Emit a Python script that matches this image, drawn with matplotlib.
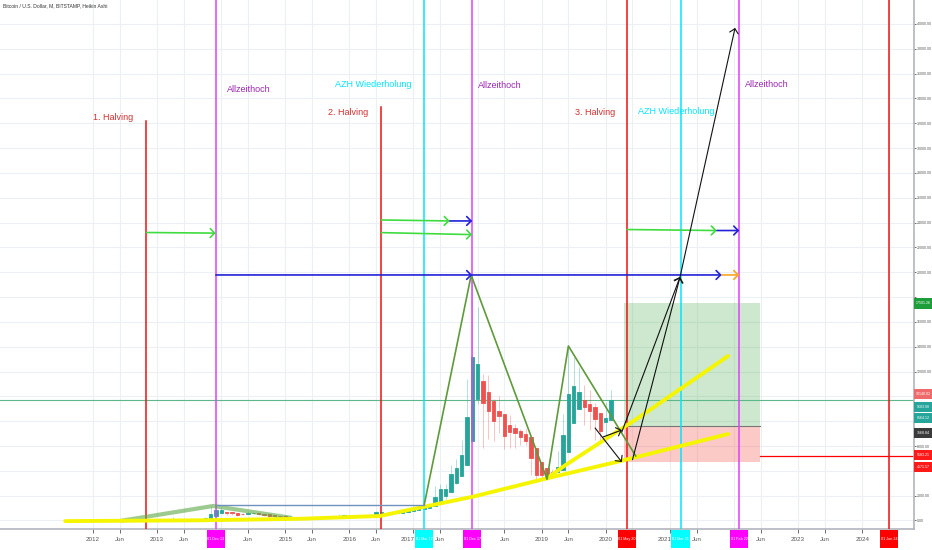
import numpy as np
import pandas as pd
import matplotlib
matplotlib.use('Agg')
import matplotlib.pyplot as plt
from matplotlib.patches import Rectangle
import matplotlib.transforms as mtransforms

plt.rcParams['font.family'] = ['Liberation Sans Narrow', 'Liberation Sans', 'DejaVu Sans']

# x axis is a month index: 0 = Jan 2012 (one TradingView bar per month)
FIRST_BAR = '2011-08'
LAST_BAR = '2020-02'

# Heikin Ashi monthly candles, Aug 2011 .. Feb 2020 (BITSTAMP)
ha_open = [12, 11, 8.5, 6, 4.4,
           4, 5, 5, 5, 5, 5, 5.6, 6.8, 8.7, 10, 10.7, 11,
           12, 14, 20, 40, 80, 100, 105, 98, 104, 115, 143, 350,
           585, 705, 670, 620, 545, 530, 570, 590, 560, 500, 430, 400,
           370, 315, 278, 271, 250, 243, 244, 262, 251, 243, 259, 305,
           362, 381, 390, 402, 421, 450, 550, 605, 598, 601, 630, 680,
           765, 848, 950, 1025, 1130, 1500, 2000, 2260, 3000, 3600, 4440, 6390,
           9800, 11220, 10340, 9590, 8800, 8610, 7700, 7420, 7240, 6980, 6690, 5850,
           4750, 4200, 3925, 3890, 4090, 5485, 7840, 9015, 9680, 9415, 9110, 8640,
           7940, 8090]
ha_close = [10, 6, 4, 2.8, 3.6,
            6, 5.1, 4.9, 5, 5.1, 6.2, 8, 10.5, 11.5, 11.3, 11.5, 13.3,
            16, 27, 60, 120, 120, 110, 90, 110, 127, 170, 560, 820,
            826, 640, 570, 470, 520, 610, 610, 530, 440, 360, 370, 340,
            260, 240, 265, 230, 235, 245, 280, 240, 235, 275, 350, 420,
            400, 400, 415, 440, 480, 650, 660, 590, 605, 660, 730, 850,
            930, 1050, 1100, 1230, 1860, 2500, 2520, 3730, 4200, 5270, 8340, 13200,
            12630, 9470, 8830, 8020, 8420, 6800, 7130, 7050, 6720, 6400, 5020, 3650,
            3650, 3650, 3850, 4290, 6880, 10190, 10800, 10340, 9150, 8810, 8175, 7240,
            8245, 9700]
ha_high = [15, 12, 9, 7, 5,
           7, 6.5, 5.5, 5.5, 5.3, 7, 9.5, 16, 12.5, 13, 12.5, 14,
           21, 31, 95, 266, 130, 130, 111, 125, 145, 250, 1163, 1150,
           1000, 710, 710, 620, 630, 680, 650, 600, 560, 500, 460, 400,
           370, 315, 300, 300, 255, 270, 315, 290, 260, 330, 500, 470,
           460, 440, 420, 460, 540, 780, 700, 610, 610, 740, 760, 980,
           1160, 1200, 1280, 1350, 2760, 2980, 2920, 4480, 4970, 6470, 11400, 19660,
           17170, 11790, 11700, 9760, 10020, 8610, 8500, 7770, 7410, 7400, 6690, 5850,
           4750, 4200, 4140, 5620, 8570, 13880, 13200, 12330, 10950, 10500, 9500, 8640,
           9580, 10500]
ha_low = [7, 4.5, 2.2, 2, 2.8,
          4, 4.3, 4.4, 4.7, 4.9, 5.2, 5.6, 6.8, 8.7, 10, 10.5, 11,
          12, 14, 20, 40, 80, 65, 65, 90, 104, 115, 143, 350,
          585, 420, 450, 340, 420, 530, 570, 450, 380, 290, 320, 300,
          150, 210, 240, 210, 220, 215, 244, 200, 225, 235, 259, 305,
          350, 360, 390, 402, 421, 450, 480, 520, 590, 601, 630, 680,
          750, 848, 890, 1025, 1130, 1500, 1760, 2260, 2980, 3600, 4440, 6390,
          9400, 5870, 6530, 6430, 7030, 5750, 5830, 5880, 6100, 6090, 3650, 3130,
          3350, 3380, 3730, 3890, 4090, 5485, 7840, 9015, 7710, 7300, 6500, 6430,
          6850, 8090]

# vertical event lines
halving_dates = ['2012-11', '2016-07', '2020-05', '2024-06']
halving_tops = [32200, 33300, None, None]
ath_dates = ['2013-12', '2017-12', '2022-02']
repeat_dates = ['2017-03', '2021-03']

# text notes: (text, month index, price, colour)
notes = [
    ('1. Halving', 0.0, 32500, '#d32f2f'),
    ('Allzeithoch', 25.1, 34760, '#9c27b0'),
    ('AZH Wiederholung', 45.3, 35160, '#00e5ff'),
    ('2. Halving', 44.0, 32830, '#d32f2f'),
    ('Allzeithoch', 72.1, 35080, '#9c27b0'),
    ('3. Halving', 90.2, 32830, '#d32f2f'),
    ('AZH Wiederholung', 102.0, 32910, '#00e5ff'),
    ('Allzeithoch', 122.1, 35160, '#9c27b0'),
]

# drawn arrows: ((month, price) start, (month, price) end)
green_arrows = [((10, 23200), (23, 23150)), ((54, 24210), (66.8, 24130)),
                ((54, 23190), (71, 23030)), ((100, 23440), (116.8, 23360))]
blue_arrows = [((66.8, 24130), (71, 24130)), ((23, 19780), (71, 19780)),
               ((71, 19780), (117.7, 19780)), ((116.8, 23360), (121, 23360))]
orange_arrows = [((117.7, 19780), (121, 19780))]
black_arrows = [((99.0, 7130), (109.9, 19620)), ((101.0, 4900), (109.9, 19620)),
                ((109.9, 19620), (120.2, 39680)), ((94.0, 7450), (99.0, 4710)),
                ((95.5, 6730), (99.0, 7290))]

# trend lines
yellow_low_x = [-5.2, 20.0, 38.7, 53.7, 57.5, 71.1, 85.0, 99.0, 118.9]
yellow_low_y = [-50, 16, 137, 363, 709, 1917, 3400, 4818, 6968]
yellow_up_x = [85.0, 88.0, 102.4, 118.9]
yellow_up_y = [3400, 4334, 8362, 13252]
zigzag_x = [62.0, 70.8, 85.0, 89.0, 101.6]
zigzag_y = [1250, 19760, 3320, 14060, 5200]
early_zigzag_x = [5.6, 22.5, 36.9]
early_zigzag_y = [0, 1170, 230]
range_line = [(23, 1250), (62, 1250)]

# long position tool
pos_left, pos_right = 99.4, 124.9
entry_price, target_price, stop_price = 7600, 17501.26, 4700
stop_line = 5183.21
last_price_line = 9708

# price axis labels: (price position, text, colour)
price_tags = [(17501, '17501.26', '#1e9e3a'), (10190, '10140.02', '#ef6b6b'),
              (9144, '9683.98', '#26a69a'), (8257, '8564.12', '#26a69a'),
              (7049, '7568.84', '#3a3a3a'), (5277, '5183.21', '#ff1a1a'),
              (4310, '4571.57', '#ff1a1a')]
hidden_price_ticks = [18000, 10000, 8000, 4000]

# time axis date tags: (month, text, colour)
date_tags = [('2013-12', '01 Dec 13', '#ff00ff'), ('2017-03', '01 Mar 17', '#00ffff'),
             ('2017-12', '01 Dec 17', '#ff00ff'), ('2020-05', '01 May 20', '#ff0000'),
             ('2021-03', '01 Mar 21', '#00ffff'), ('2022-02', '01 Feb 22', '#ff00ff'),
             ('2024-06', '01 Jun 24', '#ff0000')]


def mi(s):
    p = pd.Period(s, freq='M')
    return (p.year - 2012) * 12 + p.month - 1


fig = plt.figure(figsize=(9.32, 5.5), dpi=100)
ax = fig.add_axes([0, 21 / 550, 914 / 932, 529 / 550])
ax.set_xlim(-17.41, 153.7)
ax.set_ylim(-685, 41930)

# grid + axes look
xt, xl = [], []
hidden_months = [24, 72, 101, 120, 149]
half_hidden = {60: '2017', 108: '2021'}
for year in range(2012, 2025):
    for mo, lab in [(1, str(year)), (6, 'Jun')]:
        m = mi(f'{year}-{mo:02d}')
        xt.append(m)
        xl.append('' if (m in hidden_months or m in half_hidden) else lab)
ax.set_xticks(xt)
ax.set_xticklabels(xl)
yt = np.arange(0, 40001, 2000)
ax.set_yticks(yt)
ax.set_yticklabels(['' if v in hidden_price_ticks else f'{v:.2f}' for v in yt])
ax.yaxis.tick_right()
ax.tick_params(axis='y', labelsize=2.6, colors='#555555', length=1.5, pad=0.6, width=0.6)
ax.tick_params(axis='x', labelsize=4.5, colors='#555555', length=3, pad=3, width=0.6)
ax.grid(True, color='#eceff3', lw=0.8, zorder=0)
ax.set_axisbelow(True)
for s in ['top', 'left']:
    ax.spines[s].set_visible(False)
for s in ['right', 'bottom']:
    ax.spines[s].set_color('#b2b5be')
    ax.spines[s].set_linewidth(1.2)

tr_x = ax.get_xaxis_transform()
# year labels partly covered by date tags: shown just left of the tag
for m, lab in half_hidden.items():
    ax.text(m + 0.3, -10.5 / 529, lab, transform=tr_x, fontsize=4.5, color='#555555',
            ha='right', va='center', clip_on=False)

# long position boxes
ax.add_patch(Rectangle((pos_left, entry_price), pos_right - pos_left, target_price - entry_price,
                       fc='#4caf50', alpha=0.28, ec='none', zorder=1))
ax.add_patch(Rectangle((pos_left, stop_price), pos_right - pos_left, entry_price - stop_price,
                       fc='#f44336', alpha=0.28, ec='none', zorder=1))
ax.plot([pos_left, pos_right], [entry_price, entry_price], color='#777777', lw=0.8, zorder=1.5)
ax.plot([pos_right, 153.7], [stop_line, stop_line], color='#ff0000', lw=0.9, zorder=1.5)
ax.axhline(last_price_line, color='#5cb88a', lw=0.8, zorder=1.5)

# candles
months = pd.period_range(FIRST_BAR, LAST_BAR, freq='M')
cx = np.array([(p.year - 2012) * 12 + p.month - 1 for p in months])
o, c = np.array(ha_open), np.array(ha_close)
up = c >= o
cols = np.where(up, '#26a69a', '#ef5350')
ax.vlines(cx, ha_low, ha_high, colors=cols, lw=0.7, alpha=0.35, zorder=2)
ax.bar(cx, c - o, bottom=o, width=0.62, color=cols, edgecolor=cols, lw=0.6, zorder=2.2)

# vertical event lines
for d, top in zip(halving_dates, halving_tops):
    ax.plot([mi(d), mi(d)], [-685, top if top else 41930], color='#ee1111', lw=1.1, zorder=3)
for d in ath_dates:
    ax.axvline(mi(d), color='#e040fb', lw=1.1, zorder=3)
for d in repeat_dates:
    ax.axvline(mi(d), color='#00e5ff', lw=1.1, zorder=3)

# trend drawings
ax.plot(early_zigzag_x, early_zigzag_y, color='#5aa845', lw=3, alpha=0.6, zorder=3.2)
ax.plot(yellow_low_x, yellow_low_y, color='#f5f500', lw=2.8, zorder=3.3, solid_capstyle='round')
ax.plot(yellow_up_x, yellow_up_y, color='#f5f500', lw=2.8, zorder=3.3, solid_capstyle='round')
ax.plot(zigzag_x, zigzag_y, color='#5e9a3a', lw=1.2, zorder=3.4)
ax.plot(*zip(*range_line), color='#7092be', lw=1, zorder=3.4)


def arrow(p0, p1, color, lw=1.2):
    ax.annotate('', xy=p1, xytext=p0, zorder=3.6,
                arrowprops=dict(arrowstyle='->,head_length=0.35,head_width=0.35', color=color,
                                lw=lw, shrinkA=0, shrinkB=0, mutation_scale=9))


for a, b in green_arrows:
    arrow(a, b, '#3fdc3f')
for a, b in blue_arrows:
    arrow(a, b, '#2222d8')
for a, b in orange_arrows:
    arrow(a, b, '#f5a623')
for a, b in black_arrows:
    arrow(a, b, '#111111', lw=0.8)

for txt, m, p, col in notes:
    ax.text(m, p, txt, color=col, fontsize=6.5, va='center', ha='left', zorder=4)

# price tags on the right axis
tr_y = mtransforms.blended_transform_factory(ax.transAxes, ax.transData)
for p, txt, col in price_tags:
    ax.add_patch(Rectangle((1.0, p - 440), 18 / 914, 880, transform=tr_y, fc=col, ec='none',
                           clip_on=False, zorder=6))
    ax.text(1.0 + 9 / 914, p, txt, transform=tr_y, color='white', fontsize=2.6,
            ha='center', va='center', clip_on=False, zorder=7)

# date tags on the time axis
for d, txt, col in date_tags:
    m = mi(d)
    ax.add_patch(Rectangle((m - 1.7, -19 / 529), 3.4, 18 / 529, transform=tr_x, fc=col, ec='none',
                           clip_on=False, zorder=6))
    ax.text(m, -10 / 529, txt, transform=tr_x, color='white', fontsize=2.7,
            ha='center', va='center', clip_on=False, zorder=7)

fig.text(3 / 932, 1 - 6 / 550, 'Bitcoin / U.S. Dollar, M, BITSTAMP, Heikin Ashi',
         fontsize=3.6, color='#333333', va='center', ha='left')

fig.savefig('out.png', dpi=100)
